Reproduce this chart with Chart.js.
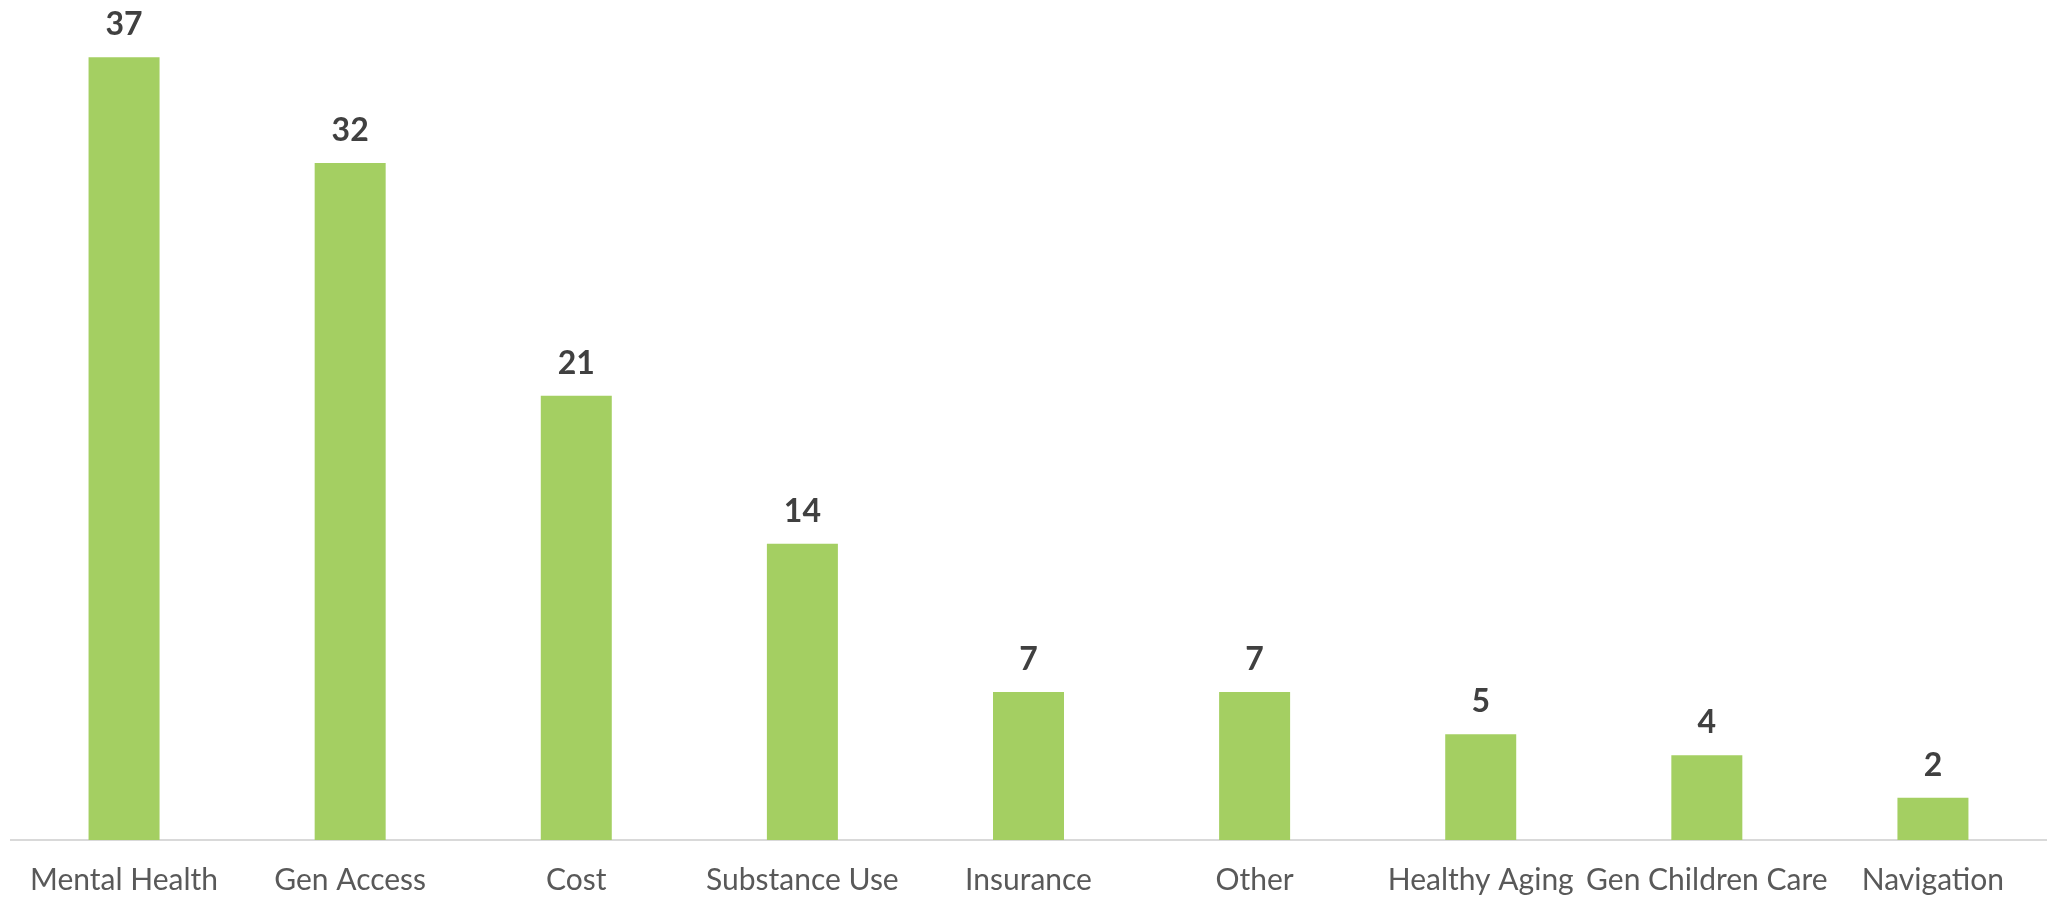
<!DOCTYPE html>
<html>
<head>
<meta charset="utf-8">
<script src="https://cdn.jsdelivr.net/npm/chart.js@4"></script>
<style>
  html, body { margin: 0; padding: 0; background: #fff; }
  #wrap { width: 2049px; height: 898px; }
</style>
</head>
<body>
<div id="wrap"><canvas id="chart"></canvas></div>
<script>
const categories = ['Mental Health', 'Gen Access', 'Cost', 'Substance Use', 'Insurance', 'Other', 'Healthy Aging', 'Gen Children Care', 'Navigation'];
const counts = [37, 32, 21, 14, 7, 7, 5, 4, 2];

// draw the value above each bar
const valueLabels = {
    id: 'valueLabels',
    afterDatasetsDraw(chart) {
        const ctx = chart.ctx;
        const meta = chart.getDatasetMeta(0);
        ctx.save();
        ctx.font = 'bold 32px Lato, "Open Sans", sans-serif';
        ctx.fillStyle = '#404040';
        ctx.textAlign = 'center';
        ctx.textBaseline = 'alphabetic';
        meta.data.forEach((bar, i) => {
            ctx.fillText(counts[i], bar.x, bar.y - 22);
        });
        ctx.restore();
    }
};

new Chart(document.getElementById('chart'), {
    type: 'bar',
    data: {
        labels: categories,
        datasets: [{
            data: counts,
            backgroundColor: '#a4cf62',
            categoryPercentage: 1,
            barPercentage: 0.314
        }]
    },
    options: {
        responsive: true,
        maintainAspectRatio: false,
        animation: false,
        layout: { padding: { left: 11, right: 3, top: 0, bottom: 0 } },
        plugins: {
            legend: { display: false },
            tooltip: { enabled: false }
        },
        scales: {
            x: {
                grid: { display: false, drawTicks: false },
                border: { color: '#d9d9d9', width: 2 },
                ticks: {
                    color: '#595959',
                    font: { family: 'Lato, "Open Sans", sans-serif', size: 30, lineHeight: 1.2 },
                    padding: 22,
                    maxRotation: 0,
                    autoSkip: false
                },
                afterFit(scale) {
                    scale.height = 58;
                }
            },
            y: {
                display: false,
                min: 0,
                max: 39.7
            }
        }
    },
    plugins: [valueLabels]
});
</script>
</body>
</html>
